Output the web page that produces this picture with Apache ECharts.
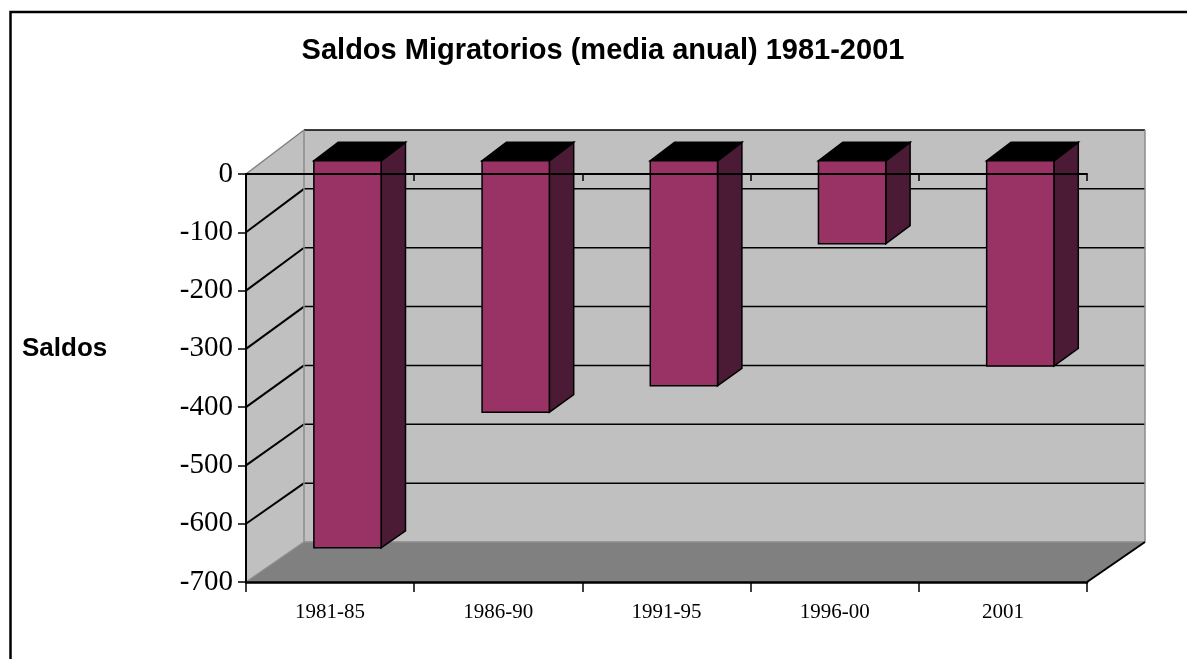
<!DOCTYPE html>
<html>
<head>
<meta charset="utf-8">
<script src="https://cdn.jsdelivr.net/npm/echarts@6/dist/echarts.min.js"></script>
<style>
  html, body { margin: 0; padding: 0; background: #fff; }
  #chart { width: 1187px; height: 659px; }
</style>
</head>
<body>
<div id="chart"></div>
<script>
// datos
const periods = ['1981-85', '1986-90', '1991-95', '1996-00', '2001'];
const saldos = [-662, -430, -385, -142, -351];
const yTicks = [0, -100, -200, -300, -400, -500, -600, -700];

// perspectiva del gráfico 3D (px)
const DX = 58, DY = -44, BACK_SCALE = 412 / 408;
const BAR_FRONT = 0.3, BAR_BACK = 0.72, BAR_WIDTH = 0.4;

function proj(x, y, y0, f) {
  return [x + f * DX, y0 + f * DY + (y - y0) * (1 + f * (BACK_SCALE - 1))];
}

function line(a, b, color, w) {
  return {
    type: 'line',
    shape: { x1: a[0], y1: a[1], x2: b[0], y2: b[1] },
    style: { stroke: color, lineWidth: w }
  };
}

function poly(points, fill, stroke, w) {
  return {
    type: 'polygon',
    shape: { points: points },
    style: { fill: fill, stroke: stroke || null, lineWidth: w || 0 }
  };
}

function renderWalls(params, api) {
  const cs = params.coordSys;
  const x0 = cs.x, x1 = cs.x + cs.width;
  const yTop = api.coord([0, 0])[1];
  const vMin = yTicks[yTicks.length - 1];
  const P = (x, v, f) => proj(x, api.coord([0, v])[1], yTop, f);

  const kids = [
    poly([P(x0, 0, 0), P(x0, 0, 1), P(x0, vMin, 1), P(x0, vMin, 0)], '#c0c0c0'),
    poly([P(x0, 0, 1), P(x1, 0, 1), P(x1, vMin, 1), P(x0, vMin, 1)], '#c0c0c0'),
    poly([P(x0, vMin, 0), P(x0, vMin, 1), P(x1, vMin, 1), P(x1, vMin, 0)], '#808080')
  ];
  yTicks.forEach(v => {
    if (v === vMin) return;
    kids.push(line(P(x0, v, 1), P(x1, v, 1), '#000', 1.5));
    if (v !== 0) kids.push(line(P(x0, v, 0), P(x0, v, 1), '#000', 2));
  });
  kids.push(line(P(x0, 0, 0), P(x0, 0, 1), '#808080', 1.5));
  kids.push(line(P(x0, 0, 1), P(x0, vMin, 1), '#8c8c8c', 1.5));
  kids.push(line(P(x1, 0, 1), P(x1, vMin, 1), '#8c8c8c', 1.5));
  kids.push(line(P(x0, vMin, 0), P(x0, vMin, 1), '#8c8c8c', 1.5));
  kids.push(line(P(x0, vMin, 1), P(x1, vMin, 1), '#8c8c8c', 1.5));
  kids.push(line(P(x1, vMin, 0), P(x1, vMin, 1), '#000', 2));
  return { type: 'group', children: kids };
}

function renderBar(params, api) {
  const i = api.value(0), v = api.value(1);
  const c0 = api.coord([i, 0]), c1 = api.coord([i, v]);
  const hw = api.size([1, 0])[0] * BAR_WIDTH / 2;
  const y0 = c0[1], yv = c1[1];
  const xl = c0[0] - hw, xr = c0[0] + hw;
  const flt = proj(xl, y0, y0, BAR_FRONT), frt = proj(xr, y0, y0, BAR_FRONT);
  const frb = proj(xr, yv, y0, BAR_FRONT), flb = proj(xl, yv, y0, BAR_FRONT);
  const blt = proj(xl, y0, y0, BAR_BACK), brt = proj(xr, y0, y0, BAR_BACK);
  const brb = proj(xr, yv, y0, BAR_BACK);
  return {
    type: 'group',
    children: [
      poly([frt, brt, brb, frb], '#4b1a34', '#000', 1.5),
      poly([flt, frt, brt, blt], '#000', '#000', 1.5),
      poly([flt, frt, frb, flb], '#993366', '#000', 1.5)
    ]
  };
}

const serif = 'Liberation Serif, Times New Roman, serif';
const sans = 'Liberation Sans, Arial, sans-serif';

const chart = echarts.init(document.getElementById('chart'));
chart.setOption({
  backgroundColor: '#fff',
  animation: false,
  grid: { left: 246, top: 174, width: 841, height: 408, outerBoundsMode: 'none' },
  xAxis: [
    {
      type: 'category',
      data: periods,
      position: 'bottom',
      z: 10,
      axisLine: { onZero: false, lineStyle: { color: '#000', width: 2.5 } },
      axisTick: { show: true, interval: 0, length: 10, lineStyle: { color: '#000', width: 1.5 } },
      axisLabel: { color: '#000', fontFamily: serif, fontSize: 21, margin: 20 }
    },
    {
      type: 'category',
      data: periods,
      position: 'bottom',
      z: 10,
      axisLine: { onZero: true, lineStyle: { color: '#000', width: 2 } },
      axisTick: { show: true, interval: 0, length: 7, lineStyle: { color: '#000', width: 1.5 } },
      axisLabel: { show: false }
    }
  ],
  yAxis: {
    type: 'value',
    min: -700,
    max: 0,
    interval: 100,
    z: 10,
    axisLine: { show: true, lineStyle: { color: '#000', width: 2 } },
    axisTick: { show: true, length: 8, lineStyle: { color: '#000', width: 1.5 } },
    axisLabel: { color: '#000', fontFamily: serif, fontSize: 29, margin: 13 },
    splitLine: { show: false }
  },
  graphic: [
    {
      type: 'rect',
      shape: { x: 10.5, y: 12, width: 1300, height: 800 },
      style: { fill: null, stroke: '#000', lineWidth: 2.5 },
      z: 100
    },
    {
      type: 'text',
      x: 603, y: 51,
      style: {
        text: 'Saldos Migratorios (media anual) 1981-2001',
        font: 'bold 29px ' + sans,
        fill: '#000',
        align: 'center',
        verticalAlign: 'middle'
      }
    },
    {
      type: 'text',
      x: 22, y: 349,
      style: {
        text: 'Saldos',
        font: 'bold 26px ' + sans,
        fill: '#000',
        align: 'left',
        verticalAlign: 'middle'
      }
    }
  ],
  series: [
    {
      type: 'custom',
      name: 'paredes',
      clip: false,
      silent: true,
      z: 1,
      data: [[0, 0]],
      renderItem: renderWalls
    },
    {
      type: 'custom',
      name: 'Saldos',
      clip: false,
      z: 3,
      data: saldos.map((v, i) => [i, v]),
      encode: { x: 0, y: 1 },
      renderItem: renderBar
    }
  ]
});
</script>
</body>
</html>
